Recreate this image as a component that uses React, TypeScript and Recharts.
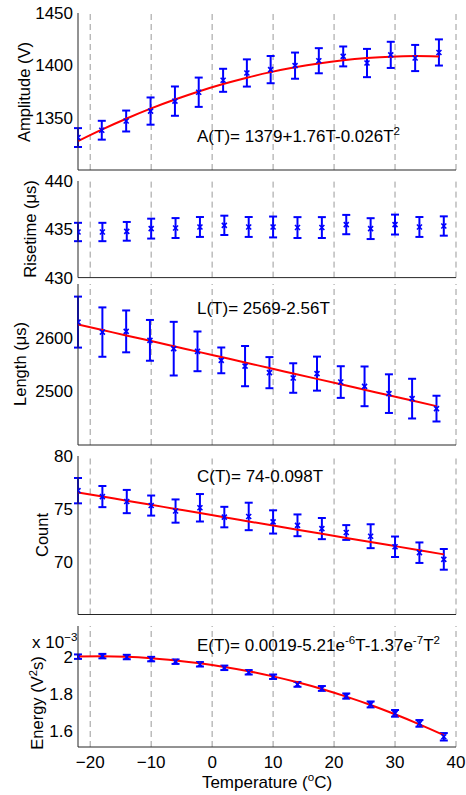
import { ComposedChart, Scatter, Line, XAxis, YAxis, ErrorBar, ReferenceLine } from 'recharts'

// temperatures (°C)
const temps = [-22, -18, -14, -10, -6, -2, 2, 6, 10, 14, 18, 22, 26, 30, 34, 38]
const ampTemps = [-22, -18.1, -14.1, -10.1, -6.1, -2.2, 1.8, 5.7, 9.6, 13.6, 17.5, 21.5, 25.4, 29.3, 33.3, 37.2]
const lenTemps = [-22, -18, -14.1, -10.2, -6.3, -2.4, 1.5, 5.4, 9.4, 13.3, 17.2, 21.1, 25, 29, 32.8, 36.8]
const gridTemps = [-20, -10, 0, 10, 20, 30, 40]
const xTicks = [-20, -10, 0, 10, 20, 30, 40]

// Amplitude (V)
const ampValues = [1331, 1338, 1346.8, 1356.3, 1365.8, 1374.3, 1385.7, 1392.7, 1395.9, 1399.7, 1404.4, 1408.5, 1402.2, 1410, 1407, 1412.3]
const ampErrors = [9, 9, 10, 13, 14, 14, 11, 13, 13, 12.5, 12, 9.5, 13.5, 12.5, 12.5, 12.5]
const ampFit = [1327.7, 1338.6, 1349, 1358.6, 1367.3, 1375, 1382.1, 1388.2, 1393.5, 1398.1, 1401.8, 1404.8, 1406.9, 1408.3, 1408.8, 1408.5]
const ampTicks = [1350, 1400, 1450]

// Risetime (µs)
const riseValues = [434.72, 434.72, 434.79, 435.07, 435.13, 435.24, 435.41, 435.24, 435.24, 435.18, 435.18, 435.49, 435.07, 435.49, 435.24, 435.34]
const riseErrors = [0.95, 0.95, 0.97, 1.03, 1.03, 1.03, 1.0, 1.03, 1.08, 1.08, 1.08, 1.0, 1.08, 1.03, 1.03, 1.0]
const riseTicks = [430, 435, 440]

// Length (µs)
const lenValues = [2629, 2610.4, 2611.7, 2595, 2579.5, 2574.5, 2557.7, 2547, 2534.8, 2524.8, 2533, 2517.3, 2509.3, 2495.7, 2486.4, 2467.8]
const lenErrors = [47.5, 46, 39, 38, 50, 37, 24, 37.5, 29, 27.5, 31.7, 29.5, 37, 36, 37, 24]
const lenFit = [2624.5, 2614.2, 2604.2, 2594.1, 2584, 2574, 2563.9, 2553.8, 2543.4, 2533.3, 2523.2, 2513.1, 2503, 2492.6, 2482.8, 2472.4]
const lenTicks = [2500, 2600]

// Count
const cntValues = [76.72, 76.16, 75.69, 75.31, 74.79, 75.1, 74.22, 74.28, 73.76, 73.44, 73.13, 72.76, 72.41, 71.41, 70.85, 70.22]
const cntErrors = [1.2, 1.0, 1.1, 0.95, 1.1, 1.3, 0.97, 1.3, 1.1, 1.03, 1.0, 0.7, 1.13, 0.97, 0.97, 0.98]
const cntFit = [76.55, 76.16, 75.77, 75.38, 74.99, 74.6, 74.2, 73.81, 73.42, 73.03, 72.64, 72.25, 71.86, 71.47, 71.08, 70.69]
const cntTicks = [70, 75, 80]

// Energy (x 10^-3 V^2 s)
const enValues = [2.002, 2.005, 2.0, 1.989, 1.975, 1.961, 1.942, 1.918, 1.894, 1.853, 1.831, 1.79, 1.745, 1.697, 1.643, 1.571]
const enErrors = [0.012, 0.012, 0.012, 0.012, 0.012, 0.012, 0.012, 0.012, 0.012, 0.013, 0.013, 0.014, 0.016, 0.018, 0.018, 0.02]
const enFit = [2.003, 2.004, 2.001, 1.993, 1.981, 1.966, 1.947, 1.924, 1.896, 1.864, 1.828, 1.787, 1.742, 1.692, 1.638, 1.58]
const enTicks = [1.6, 1.8, 2]

const FONT = '"Liberation Sans", Arial, Helvetica, sans-serif'
const AXIS = '#262626'
const BLUE = '#0000ff'
const RED = '#ff0000'

type Row = { t: number; v: number; e: number; fit?: number }

function rows(t: number[], v: number[], e: number[], f?: number[]): Row[] {
  return t.map((x, i) => ({ t: x, v: v[i], e: e[i], fit: f ? f[i] : undefined }))
}

function fmtTemp(v: number) {
  return v < 0 ? `\u2212${Math.abs(v)}` : String(v)
}

function XMark(props: any) {
  const { cx, cy } = props
  if (cx == null || cy == null) return null
  const s = 2.5
  return (
    <g>
      <line x1={cx - s} y1={cy - s} x2={cx + s} y2={cy + s} stroke={BLUE} strokeWidth={1.6} />
      <line x1={cx - s} y1={cy + s} x2={cx + s} y2={cy - s} stroke={BLUE} strokeWidth={1.6} />
    </g>
  )
}

type PanelProps = {
  top: number
  plotH: number
  data: Row[]
  domain: [number, number]
  ticks: number[]
  showX?: boolean
  hasFit?: boolean
}

function Panel({ top, plotH, data, domain, ticks, showX = false, hasFit = true }: PanelProps) {
  const mTop = 12
  const xH = showX ? 30 : 2
  const mBottom = showX ? 0 : 10
  return (
    <div style={{ position: 'absolute', left: 0, top: top - mTop }}>
      <ComposedChart
        width={466}
        height={mTop + plotH + xH + mBottom}
        data={data}
        margin={{ top: mTop, right: 10, bottom: mBottom, left: 0 }}
      >
        <XAxis
          dataKey="t"
          type="number"
          domain={[-22, 40]}
          ticks={xTicks}
          interval={0}
          allowDataOverflow
          height={xH}
          tick={showX ? { fontSize: 17, fill: '#000' } : false}
          tickLine={false}
          tickSize={0}
          tickMargin={9}
          axisLine={{ stroke: AXIS }}
          tickFormatter={fmtTemp}
        />
        <YAxis
          type="number"
          domain={domain}
          ticks={ticks}
          interval={0}
          allowDataOverflow
          width={78}
          tickLine={false}
          tickSize={0}
          tickMargin={5}
          axisLine={{ stroke: AXIS }}
          tick={{ fontSize: 17, fill: '#000' }}
        />
        {gridTemps.map((g) => (
          <ReferenceLine key={g} x={g} stroke="#9a9a9a" strokeDasharray="6 4" />
        ))}
        <Scatter dataKey="v" shape={(p: any) => <XMark {...p} />} isAnimationActive={false}>
          <ErrorBar dataKey="e" direction="y" width={4} stroke={BLUE} strokeWidth={2} />
        </Scatter>
        {hasFit && (
          <Line
            dataKey="fit"
            type="monotone"
            stroke={RED}
            strokeWidth={2}
            dot={false}
            activeDot={false}
            isAnimationActive={false}
          />
        )}
      </ComposedChart>
    </div>
  )
}

function YLabel({ cx, cy, children }: { cx: number; cy: number; children: React.ReactNode }) {
  return (
    <div
      style={{
        position: 'absolute',
        left: cx,
        top: cy,
        transform: 'translate(-50%, -50%) rotate(-90deg)',
        whiteSpace: 'nowrap',
        fontSize: 16.5,
        lineHeight: '20px',
      }}
    >
      {children}
    </div>
  )
}

function Note({ left, cy, children }: { left: number; cy: number; children: React.ReactNode }) {
  return (
    <div
      style={{
        position: 'absolute',
        left,
        top: cy,
        transform: 'translateY(-50%)',
        whiteSpace: 'nowrap',
        fontSize: 17,
        lineHeight: '20px',
      }}
    >
      {children}
    </div>
  )
}

const sup: React.CSSProperties = { fontSize: '0.68em', verticalAlign: 'super', lineHeight: 0 }

export default function App() {
  return (
    <div
      style={{
        position: 'absolute',
        left: 0,
        top: 0,
        width: 466,
        height: 795,
        background: '#fff',
        fontFamily: FONT,
        color: '#000',
      }}
    >
      <Panel top={13.3} plotH={157} data={rows(ampTemps, ampValues, ampErrors, ampFit)} domain={[1300, 1450]} ticks={ampTicks} />
      <Panel top={180.7} plotH={96.6} data={rows(temps, riseValues, riseErrors)} domain={[430, 440]} ticks={riseTicks} hasFit={false} />
      <Panel top={283.5} plotH={161} data={rows(lenTemps, lenValues, lenErrors, lenFit)} domain={[2400, 2700]} ticks={lenTicks} />
      <Panel top={456} plotH={158.5} data={rows(temps, cntValues, cntErrors, cntFit)} domain={[65, 80]} ticks={cntTicks} />
      <Panel top={626} plotH={121} data={rows(temps, enValues, enErrors, enFit)} domain={[1.516, 2.167]} ticks={enTicks} showX />

      <YLabel cx={24} cy={92}>Amplitude (V)</YLabel>
      <YLabel cx={30} cy={229}>Risetime (μs)</YLabel>
      <YLabel cx={20} cy={364}>Length (μs)</YLabel>
      <YLabel cx={42} cy={535}>Count</YLabel>
      <YLabel cx={37} cy={703}>
        Energy (V<span style={sup}>2</span>s)
      </YLabel>

      <Note left={32} cy={643}>
        x 10<span style={sup}>−3</span>
      </Note>

      <Note left={197} cy={137}>
        A(T)= 1379+1.76T-0.026T<span style={sup}>2</span>
      </Note>
      <Note left={197} cy={309}>L(T)= 2569-2.56T</Note>
      <Note left={197} cy={477}>C(T)= 74-0.098T</Note>
      <Note left={197} cy={646}>
        E(T)= 0.0019-5.21e<span style={sup}>-6</span>T-1.37e<span style={sup}>-7</span>T<span style={sup}>2</span>
      </Note>

      <div
        style={{
          position: 'absolute',
          left: 267,
          top: 783,
          transform: 'translate(-50%, -50%)',
          whiteSpace: 'nowrap',
          fontSize: 17,
          lineHeight: '20px',
        }}
      >
        Temperature (<span style={sup}>o</span>C)
      </div>
    </div>
  )
}
